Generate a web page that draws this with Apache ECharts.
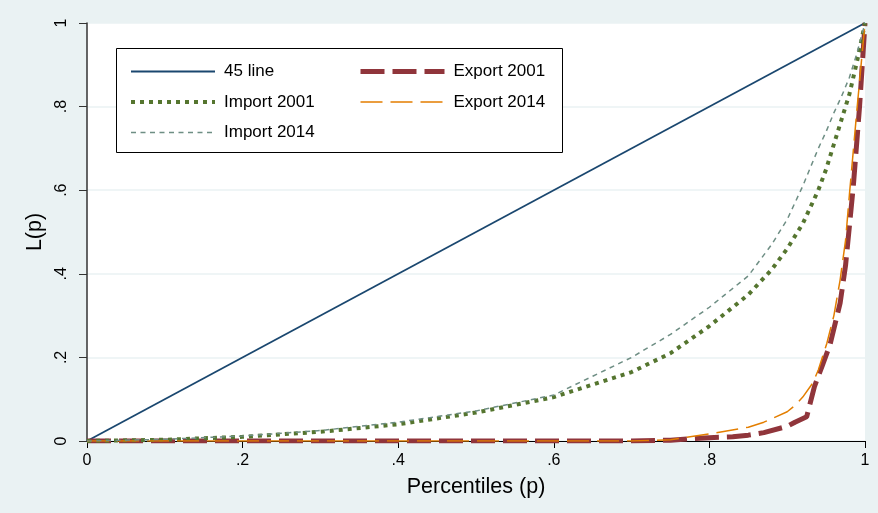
<!DOCTYPE html>
<html>
<head>
<meta charset="utf-8">
<script src="https://cdn.jsdelivr.net/npm/echarts@6/dist/echarts.min.js"></script>
<style>
  html, body { margin: 0; padding: 0; background: #eaf2f3; }
  #chart { width: 878px; height: 513px; }
</style>
</head>
<body>
<div id="chart"></div>
<script>
// Lorenz curves: import/export concentration
const tickLabels = ['0', '.2', '.4', '.6', '.8', '1'];

const linePct = [0, 1];
const lineL = [0, 1];

const importPct = [0, 0.1, 0.2, 0.3, 0.4, 0.5, 0.6, 0.65, 0.7, 0.75, 0.8, 0.85, 0.88, 0.9, 0.92, 0.94, 0.95, 0.96, 0.97, 0.98, 0.99, 1];
const import2001 = [0, 0.003, 0.01, 0.022, 0.04, 0.068, 0.105, 0.135, 0.165, 0.21, 0.275, 0.35, 0.41, 0.46, 0.52, 0.6, 0.65, 0.71, 0.77, 0.83, 0.91, 1];
const import2014 = [0, 0.004, 0.012, 0.025, 0.045, 0.072, 0.11, 0.155, 0.2, 0.255, 0.32, 0.395, 0.47, 0.53, 0.61, 0.7, 0.74, 0.785, 0.825, 0.87, 0.93, 1];

const export2001Pct = [0, 0.5, 0.7, 0.75, 0.8, 0.83, 0.85, 0.87, 0.9, 0.91, 0.925, 0.935, 0.945, 0.955, 0.968, 0.975, 0.985, 0.993, 1];
const export2001 = [0, 0, 0, 0.002, 0.008, 0.01, 0.014, 0.02, 0.035, 0.045, 0.058, 0.13, 0.18, 0.23, 0.33, 0.42, 0.61, 0.8, 1];

const export2014Pct = [0, 0.5, 0.7, 0.75, 0.8, 0.85, 0.87, 0.9, 0.91, 0.92, 0.933, 0.94, 0.951, 0.96, 0.968, 0.975, 0.98, 0.99, 1];
const export2014 = [0, 0, 0, 0.003, 0.017, 0.033, 0.045, 0.07, 0.085, 0.105, 0.139, 0.17, 0.234, 0.3, 0.385, 0.48, 0.59, 0.8, 1];

const pairs = (xs, ys) => xs.map((x, i) => [x, ys[i]]);
const fmt = v => tickLabels[Math.round(v * 5)];
const font = 'Liberation Sans, Arial, sans-serif';

const chart = echarts.init(document.getElementById('chart'));
const legendCommon = {
  orient: 'vertical',
  top: 58,
  itemWidth: 84,
  itemHeight: 14,
  itemGap: 13.5,
  textStyle: { fontFamily: font, fontSize: 17, color: '#000', padding: [0, 0, 0, 4] },
  lineStyle: { width: 'inherit' },
  itemStyle: { opacity: 0 },
  selectedMode: false
};
const option = {
  backgroundColor: '#eaf2f3',
  animation: false,
  grid: { left: 87, right: 13, top: 23, bottom: 72, show: true, backgroundColor: '#fff', borderWidth: 0 },
  graphic: [{
    type: 'rect', left: 116, top: 48, z: 50,
    shape: { width: 446, height: 104 },
    style: { fill: '#fff', stroke: '#000', lineWidth: 1 }
  }],
  legend: [
    Object.assign({}, legendCommon, { left: 124, data: ['45 line', 'Import 2001', 'Import 2014'], z: 60 }),
    Object.assign({}, legendCommon, { left: 353, data: ['Export 2001', 'Export 2014'], z: 60 })
  ],
  xAxis: {
    type: 'value', min: 0, max: 1, interval: 0.2,
    name: 'Percentiles (p)', nameLocation: 'middle', nameGap: 35,
    nameTextStyle: { fontFamily: font, fontSize: 21.5, color: '#000' },
    axisLine: { show: true, onZero: false, lineStyle: { color: '#000', width: 1 } },
    axisTick: { show: true, length: 7, lineStyle: { color: '#000' } },
    axisLabel: { formatter: fmt, margin: 12, fontFamily: font, fontSize: 16, color: '#000' },
    splitLine: { show: false }
  },
  yAxis: {
    type: 'value', min: 0, max: 1, interval: 0.2,
    name: 'L(p)', nameLocation: 'middle', nameGap: 38,
    nameTextStyle: { fontFamily: font, fontSize: 21.5, color: '#000' },
    axisLine: { show: true, lineStyle: { color: '#333', width: 1.5 } },
    axisTick: { show: true, length: 8, lineStyle: { color: '#333' } },
    axisLabel: { formatter: fmt, rotate: 90, margin: 17, fontFamily: font, fontSize: 16, color: '#000' },
    splitLine: { show: true, lineStyle: { color: '#eaf2f3', width: 1.5 } }
  },
  series: [
    {
      name: '45 line', type: 'line', symbol: 'none',
      data: pairs(linePct, lineL),
      lineStyle: { color: '#1a476f', width: 1.8 }, itemStyle: { color: '#1a476f' }
    },
    {
      name: 'Export 2001', type: 'line', symbol: 'none',
      data: pairs(export2001Pct, export2001),
      lineStyle: { color: '#90353b', width: 5, type: [24, 8] }, itemStyle: { color: '#90353b' }
    },
    {
      name: 'Import 2001', type: 'line', symbol: 'none',
      data: pairs(importPct, import2001),
      lineStyle: { color: '#55752f', width: 4, type: [4, 5] }, itemStyle: { color: '#55752f' }
    },
    {
      name: 'Export 2014', type: 'line', symbol: 'none',
      data: pairs(export2014Pct, export2014),
      lineStyle: { color: '#e37e00', width: 1.5, type: [22, 8] }, itemStyle: { color: '#e37e00' }
    },
    {
      name: 'Import 2014', type: 'line', symbol: 'none',
      data: pairs(importPct, import2014),
      lineStyle: { color: '#6e8e84', width: 1.5, type: [5, 4.5] }, itemStyle: { color: '#6e8e84' }
    }
  ]
};
chart.setOption(option);
</script>
</body>
</html>
